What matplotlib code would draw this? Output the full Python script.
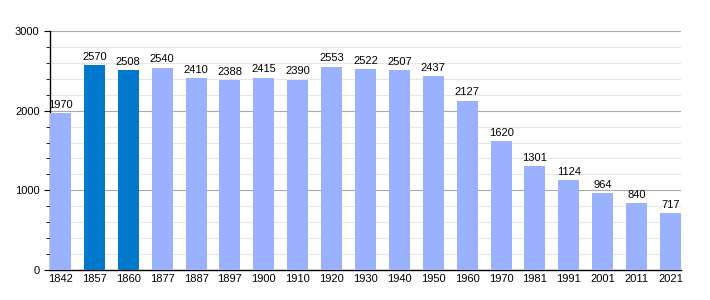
import matplotlib
matplotlib.use("Agg")
import matplotlib.pyplot as plt
from matplotlib.ticker import MultipleLocator

years = ["1842", "1857", "1860", "1877", "1887", "1897", "1900", "1910", "1920", "1930",
         "1940", "1950", "1960", "1970", "1981", "1991", "2001", "2011", "2021"]
population = [1970, 2570, 2508, 2540, 2410, 2388, 2415, 2390, 2553, 2522,
              2507, 2437, 2127, 1620, 1301, 1124, 964, 840, 717]
highlight = ["1857", "1860"]

plt.rcParams['font.family'] = ['Liberation Sans', 'DejaVu Sans']
fig = plt.figure(figsize=(7.1, 3.0), dpi=100)
ax = fig.add_axes([50/710, 30/300, 631/710, 239/300])

colors = ['#0079cc' if y in highlight else '#99b1ff' for y in years]
x = list(range(len(years)))
w = 0.62
ax.bar(x, population, width=w, color=colors, zorder=3)
for xi, v in zip(x, population):
    ax.text(xi, v + 40, str(v), ha='center', va='bottom', fontsize=8, color='black', zorder=4)

ax.set_xlim(-w/2, len(years) - 1 + w/2)
ax.set_ylim(0, 3000)
ax.set_xticks(x)
ax.set_xticklabels(years, fontsize=8)
ax.yaxis.set_major_locator(MultipleLocator(1000))
ax.yaxis.set_minor_locator(MultipleLocator(200))
ax.tick_params(axis='y', which='major', labelsize=8, length=4, direction='out')
ax.tick_params(axis='y', which='minor', length=3, direction='out')
ax.tick_params(axis='x', length=0, pad=3)
ax.grid(axis='y', which='major', color='#aaaaaa', linewidth=0.8, zorder=0)
ax.grid(axis='y', which='minor', color='#e6e6e6', linewidth=0.8, zorder=0)
for s in ['top', 'right']:
    ax.spines[s].set_visible(False)
ax.spines['left'].set_linewidth(1)
ax.spines['bottom'].set_linewidth(1)

fig.savefig("out.png", dpi=100)
